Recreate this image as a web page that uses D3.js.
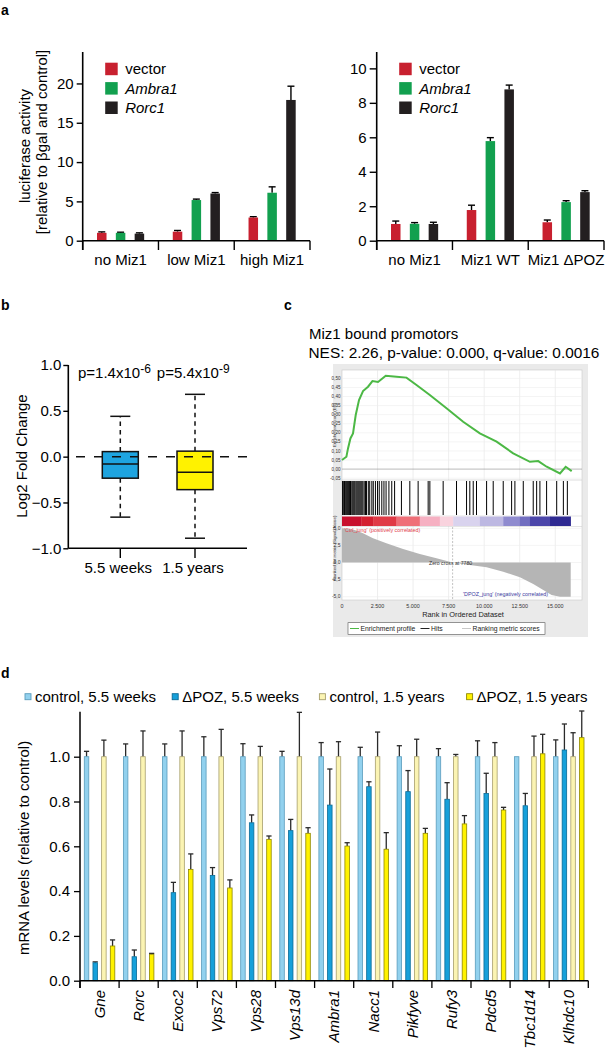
<!DOCTYPE html>
<html><head><meta charset="utf-8">
<script src="https://cdn.jsdelivr.net/npm/d3@7"></script>
<style>
body{margin:0;background:#fff;}
svg{display:block;font-family:"Liberation Sans",Arial,Helvetica,sans-serif;}
</style></head><body><svg id="fig" width="605" height="1048"></svg>
<script>
// ================= DATA =================
// Panel a
const aSeries = ["vector", "Ambra1", "Rorc1"];
const aLeftGroups = ["no Miz1", "low Miz1", "high Miz1"];
const aLeftValues = [[1.0, 1.0, 0.9], [1.15, 5.17, 6.0], [2.95, 6.1, 17.9]];
const aLeftErrors = [[0.12, 0.08, 0.1], [0.15, 0.12, 0.12], [0.1, 0.75, 1.75]];
const aLeftTicks = [0, 5, 10, 15, 20];
const aRightGroups = ["no Miz1", "Miz1 WT", "Miz1 \u0394POZ"];
const aRightValues = [[0.97, 0.98, 0.97], [1.78, 5.78, 8.78], [1.07, 2.24, 2.82]];
const aRightErrors = [[0.17, 0.07, 0.1], [0.28, 0.2, 0.25], [0.13, 0.08, 0.08]];
const aRightTicks = [0, 2, 4, 6, 8, 10];

// Panel b
const bGroups = ["5.5 weeks", "1.5 years"];
const bMin = [-0.66, -0.89];
const bQ1 = [-0.235, -0.36];
const bMedian = [-0.08, -0.17];
const bQ3 = [0.055, 0.06];
const bMax = [0.44, 0.68];
const bPMantissa = ["1.4", "5.4"];
const bPExponent = ["-6", "-9"];
const bTicks = [-1.0, -0.5, 0, 0.5, 1.0];

// Panel c (GSEA)
const cTitle1 = "Miz1 bound promotors";
const cTitle2 = "NES: 2.26, p-value: 0.000, q-value: 0.0016";
const esRank = [0, 310, 423, 592, 775, 965, 1197, 1479, 1831, 2141, 2535, 3077, 3831, 4535, 5239, 6176, 7352, 8521, 9697, 10873, 12042, 13218, 13803, 14394, 15331, 15732, 16155];
const esValue = [0.05, 0.068, 0.114, 0.169, 0.197, 0.298, 0.38, 0.43, 0.454, 0.485, 0.48, 0.514, 0.509, 0.504, 0.463, 0.408, 0.335, 0.261, 0.197, 0.151, 0.087, 0.04, 0.044, 0.013, -0.024, 0.013, -0.011];
const hitRanks = [40, 120, 180, 260, 330, 400, 470, 520, 600, 690, 760, 830, 900, 980, 1050, 1120, 1190, 1260, 1330, 1400, 1470,
  1560, 1650, 1720, 1850, 1950, 2100, 2200, 2350, 2500, 2620, 2800, 2950, 3100, 3300, 3500, 3700,
  4180, 4770, 5355, 6060, 6180, 7115, 8055, 8760, 8990, 9230, 9460, 10170, 10635, 11340, 11930, 12160, 12750, 13450, 13690, 13920, 14390, 15100, 15570, 15850];
const metricRank = [0, 894, 1479, 2183, 3122, 4296, 5470, 6646, 7780, 8990, 10170, 11340, 12514, 13451, 14155, 14742, 15330, 16085];
const metricValue = [5.0, 4.75, 4.27, 3.54, 2.8, 1.97, 1.24, 0.61, 0.0, -0.37, -0.7, -1.34, -2.16, -3.14, -4.02, -4.75, -5.0, -5.0];
const colorBarEdges = [0, 1360, 2190, 3830, 5470, 6880, 7820, 9700, 11340, 12510, 13220, 14630, 16080];
const colorBarColors = ["#c8102e", "#d42030", "#e03a46", "#ef6f78", "#f6b0c2", "#f9d3de", "#d9d3ee", "#bdb8e2", "#8f8bcf", "#716ec0", "#4c46aa", "#2f2a92"];
const rankTicks = [0, 2500, 5000, 7500, 10000, 12500, 15000];
const esTicks = [-0.05, 0, 0.05, 0.1, 0.15, 0.2, 0.25, 0.3, 0.35, 0.4, 0.45, 0.5];
const metricTicks = [-5, -2.5, 0, 2.5, 5];
const zeroCross = 7780;

// Panel d
const dGenes = ["Gne", "Rorc", "Exoc2", "Vps72", "Vps28", "Vps13d", "Ambra1", "Nacc1", "Pikfyve", "Rufy3", "Pdcd5", "Tbc1d14", "Klhdc10"];
const dSeries = ["control, 5.5 weeks", "\u0394POZ, 5.5 weeks", "control, 1.5 years", "\u0394POZ, 1.5 years"];
const dCtrl55 = [1, 1, 1, 1, 1, 1, 1, 1, 1, 1, 1, 1, 1];
const dCtrl55Err = [0.024, 0.057, 0.057, 0.089, 0.058, 0.024, 0.063, 0.042, 0.049, 0.036, 0.071, 0.0, 0.075];
const dPoz55 = [0.08, 0.107, 0.393, 0.47, 0.705, 0.67, 0.784, 0.866, 0.844, 0.81, 0.836, 0.781, 1.03];
const dPoz55Err = [0.004, 0.03, 0.046, 0.035, 0.035, 0.05, 0.161, 0.022, 0.094, 0.074, 0.09, 0.055, 0.116];
const dCtrl15 = [1, 1, 1, 1, 1, 1, 1, 1, 1, 1, 1, 1, 1];
const dCtrl15Err = [0.074, 0.115, 0.115, 0.122, 0.046, 0.198, 0.067, 0.11, 0.078, 0.01, 0.063, 0.092, 0.107];
const dPoz15 = [0.155, 0.118, 0.497, 0.414, 0.631, 0.658, 0.601, 0.587, 0.658, 0.70, 0.762, 1.013, 1.085];
const dPoz15Err = [0.027, 0.004, 0.069, 0.036, 0.015, 0.025, 0.015, 0.074, 0.022, 0.037, 0.012, 0.087, 0.119];
const dTicks = [0, 0.2, 0.4, 0.6, 0.8, 1.0];

// ================= DRAW =================
const svg = d3.select("#fig");
svg.append("rect").attr("width", 605).attr("height", 1048).attr("fill", "#fff");
const FS = 15;
const aColors = ["#c8202f", "#12a04f", "#231f20"];

// panel letters
[["a", 1, 15], ["b", 1, 310], ["c", 284, 310], ["d", 1, 678]].forEach(([t, x, y]) => {
  svg.append("text").attr("x", x).attr("y", y).attr("font-size", 14).attr("font-weight", "bold").attr("fill", "#000").text(t);
});

// ---------- Panel a ----------
function drawPanelA(groups, vals, errs, ticks, yMax, x0, x1, tickSize) {
  const g = svg.append("g");
  const y = d3.scaleLinear().domain([0, yMax]).range([240.7, 52]);
  const x = d3.scaleBand().domain(groups).range([x0, x1]);
  const xs = d3.scaleBand().domain(aSeries).range([0, x.bandwidth()]).paddingInner(0.495).paddingOuter(0.76);
  const flat = [];
  groups.forEach((grp, gi) => aSeries.forEach((s, si) => flat.push({grp, s, si, v: vals[gi][si], e: errs[gi][si]})));
  const cx = d => x(d.grp) + xs(d.s) + xs.bandwidth() / 2;
  g.selectAll(".err").data(flat).join("line")
    .attr("x1", cx).attr("x2", cx).attr("y1", d => y(d.v)).attr("y2", d => y(d.v + d.e))
    .attr("stroke", "#000").attr("stroke-width", 1.4);
  g.selectAll(".cap").data(flat).join("line")
    .attr("x1", d => cx(d) - 3.5).attr("x2", d => cx(d) + 3.5).attr("y1", d => y(d.v + d.e)).attr("y2", d => y(d.v + d.e))
    .attr("stroke", "#000").attr("stroke-width", 1.4);
  g.selectAll(".bar").data(flat).join("rect")
    .attr("x", d => x(d.grp) + xs(d.s)).attr("y", d => y(d.v))
    .attr("width", xs.bandwidth()).attr("height", d => y(0) - y(d.v))
    .attr("fill", d => aColors[d.si]);
  // y axis
  const ax = g.append("g").attr("transform", `translate(${x0},0)`)
    .call(d3.axisLeft(y).tickValues(ticks).tickSize(tickSize).tickPadding(3));
  ax.select(".domain").remove();
  ax.selectAll("line").attr("stroke", "#000").attr("stroke-width", 1.4);
  ax.selectAll("text").attr("font-size", FS).attr("fill", "#000").attr("font-family", null);
  g.append("line").attr("x1", x0).attr("x2", x0).attr("y1", 52).attr("y2", 250).attr("stroke", "#000").attr("stroke-width", 1.6);
  // x axis
  g.append("line").attr("x1", x0).attr("x2", x1).attr("y1", y(0)).attr("y2", y(0)).attr("stroke", "#000").attr("stroke-width", 1.6);
  const bounds = groups.map(d => x(d)).concat([x1]);
  g.selectAll(".xt").data(bounds).join("line")
    .attr("x1", d => d).attr("x2", d => d).attr("y1", y(0)).attr("y2", 250).attr("stroke", "#000").attr("stroke-width", 1.4);
  g.selectAll(".xl").data(groups).join("text")
    .attr("x", d => x(d) + x.bandwidth() / 2).attr("y", 265).attr("text-anchor", "middle")
    .attr("font-size", FS).attr("fill", "#000").text(d => d);
  // legend
  aSeries.forEach((s, i) => {
    const ly = 69 + i * 19.4;
    g.append("rect").attr("x", x0 + 22.5).attr("y", ly - 6.3).attr("width", 12.5).attr("height", 12.5).attr("fill", aColors[i]);
    g.append("text").attr("x", x0 + 42.5).attr("y", ly + 5.3).attr("font-size", FS)
      .attr("font-style", i === 0 ? "normal" : "italic").attr("fill", "#000").text(s);
  });
}
drawPanelA(aLeftGroups, aLeftValues, aLeftErrors, aLeftTicks, 24, 82.7, 310, 6);
drawPanelA(aRightGroups, aRightValues, aRightErrors, aRightTicks, 10.95, 376.7, 604, 7);
// y label a
svg.append("text").attr("transform", "translate(30,146) rotate(-90)").attr("text-anchor", "middle")
  .attr("font-size", FS).attr("fill", "#000").text("luciferase activity");
svg.append("text").attr("transform", "translate(46.5,142) rotate(-90)").attr("text-anchor", "middle")
  .attr("font-size", FS).attr("fill", "#000").text("[relative to \u03B2gal and control]");

// ---------- Panel b ----------
{
  const g = svg.append("g");
  const y = d3.scaleLinear().domain([-1, 1]).range([548.3, 365]);
  const x = d3.scalePoint().domain(bGroups).range([120.3, 195]);
  const bColors = ["#1ea4e0", "#fff200"];
  const bw = 36, cw = 20;
  bGroups.forEach((grp, i) => {
    const cx = x(grp);
    g.append("line").attr("x1", cx).attr("x2", cx).attr("y1", y(bQ3[i])).attr("y2", y(bMax[i]))
      .attr("stroke", "#111").attr("stroke-width", 1.5).attr("stroke-dasharray", "4.5,4");
    g.append("line").attr("x1", cx).attr("x2", cx).attr("y1", y(bQ1[i])).attr("y2", y(bMin[i]))
      .attr("stroke", "#111").attr("stroke-width", 1.5).attr("stroke-dasharray", "4.5,4");
    [bMax[i], bMin[i]].forEach(v => g.append("line").attr("x1", cx - cw / 2).attr("x2", cx + cw / 2)
      .attr("y1", y(v)).attr("y2", y(v)).attr("stroke", "#111").attr("stroke-width", 1.5));
    g.append("rect").attr("x", cx - bw / 2).attr("y", y(bQ3[i])).attr("width", bw)
      .attr("height", y(bQ1[i]) - y(bQ3[i])).attr("fill", bColors[i]).attr("stroke", "#111").attr("stroke-width", 1.5);
    g.append("line").attr("x1", cx - bw / 2).attr("x2", cx + bw / 2).attr("y1", y(bMedian[i])).attr("y2", y(bMedian[i]))
      .attr("stroke", "#111").attr("stroke-width", 1.5);
  });
  g.append("line").attr("x1", 76).attr("x2", 248).attr("y1", y(0)).attr("y2", y(0))
    .attr("stroke", "#111").attr("stroke-width", 1.5).attr("stroke-dasharray", "9,9");
  const ax = g.append("g").attr("transform", "translate(68.3,0)")
    .call(d3.axisLeft(y).tickValues(bTicks).tickFormat(d3.format(".1f")).tickSize(5).tickPadding(2));
  ax.select(".domain").remove();
  ax.selectAll("line").attr("stroke", "#000").attr("stroke-width", 1.4);
  ax.selectAll("text").attr("font-size", FS).attr("fill", "#000").attr("font-family", null);
  g.append("line").attr("x1", 68.3).attr("x2", 68.3).attr("y1", 365).attr("y2", 548.3).attr("stroke", "#000").attr("stroke-width", 1.6);
  g.append("line").attr("x1", 68.3).attr("x2", 247).attr("y1", 548.3).attr("y2", 548.3).attr("stroke", "#000").attr("stroke-width", 1.6);
  bGroups.forEach(grp => {
    g.append("line").attr("x1", x(grp)).attr("x2", x(grp)).attr("y1", 548.3).attr("y2", 558).attr("stroke", "#000").attr("stroke-width", 1.4);
    g.append("text").attr("x", x(grp) - 2).attr("y", 573).attr("text-anchor", "middle").attr("font-size", FS).attr("fill", "#000").text(grp);
  });
  let px = 78;
  bGroups.forEach((grp, i) => {
    const t = g.append("text").attr("x", px).attr("y", 378).attr("font-size", FS).attr("fill", "#000");
    t.append("tspan").text("p=" + bPMantissa[i] + "x10");
    t.append("tspan").attr("dy", -5).attr("font-size", 12).text(bPExponent[i]);
    px += t.node().getComputedTextLength() + 6;
  });
  svg.append("text").attr("transform", "translate(27,456) rotate(-90)").attr("text-anchor", "middle")
    .attr("font-size", FS).attr("fill", "#000").text("Log2 Fold Change");
}

// ---------- Panel c ----------
{
  const g = svg.append("g");
  g.append("text").attr("x", 309).attr("y", 339).attr("font-size", FS).attr("fill", "#000").text(cTitle1);
  g.append("text").attr("x", 308.5).attr("y", 357.5).attr("font-size", 15.4).attr("fill", "#000").text(cTitle2);
  const euro = d3.formatLocale({decimal: ",", thousands: ".", grouping: [3], currency: ["", ""], minus: "-"});
  g.append("rect").attr("x", 333).attr("y", 364).attr("width", 255).attr("height", 273).attr("fill", "#eaeaea");
  const x = d3.scaleLinear().domain([0, 16880]).range([342, 582]);
  const esY = d3.scaleLinear().domain([-0.06, 0.546]).range([480, 370]);
  const mY = d3.scaleLinear().domain([-5, 5]).range([596.7, 528.3]);
  g.append("rect").attr("x", 342).attr("y", 370).attr("width", 240).attr("height", 230).attr("fill", "#fff").attr("stroke", "#c8c8c8").attr("stroke-width", 0.6);
  g.selectAll(".vg").data(rankTicks.slice(1)).join("line")
    .attr("x1", d => x(d)).attr("x2", d => x(d)).attr("y1", 370).attr("y2", 480).attr("stroke", "#e2e2e2").attr("stroke-width", 0.6);
  g.selectAll(".vg2").data(rankTicks.slice(1)).join("line")
    .attr("x1", d => x(d)).attr("x2", d => x(d)).attr("y1", 526).attr("y2", 600).attr("stroke", "#e2e2e2").attr("stroke-width", 0.6);
  g.selectAll(".hg").data(esTicks).join("line")
    .attr("x1", 342).attr("x2", 582).attr("y1", d => esY(d)).attr("y2", d => esY(d))
    .attr("stroke", d => d === 0 ? "#8a8a8a" : "#ececec").attr("stroke-width", 0.6);
  g.selectAll(".mg").data(metricTicks).join("line")
    .attr("x1", 342).attr("x2", 582).attr("y1", d => mY(d)).attr("y2", d => mY(d)).attr("stroke", "#ececec").attr("stroke-width", 0.6);
  g.append("line").attr("x1", 342).attr("x2", 582).attr("y1", 480).attr("y2", 480).attr("stroke", "#c8c8c8").attr("stroke-width", 0.6);
  const esData = esRank.map((r, i) => [r, esValue[i]]);
  g.append("path").datum(esData).attr("d", d3.line().x(d => x(d[0])).y(d => esY(d[1])))
    .attr("fill", "none").attr("stroke", "#4cb845").attr("stroke-width", 2);
  g.selectAll(".hit").data(hitRanks).join("line")
    .attr("x1", d => x(d)).attr("x2", d => x(d)).attr("y1", 481).attr("y2", 515).attr("stroke", "#000").attr("stroke-width", 1);
  g.append("line").attr("x1", 342).attr("x2", 582).attr("y1", 516).attr("y2", 516).attr("stroke", "#c8c8c8").attr("stroke-width", 0.5);
  colorBarColors.forEach((c, i) => {
    g.append("rect").attr("x", x(colorBarEdges[i])).attr("y", 516.5).attr("width", x(colorBarEdges[i + 1]) - x(colorBarEdges[i]) + 0.3)
      .attr("height", 9.5).attr("fill", c);
  });
  g.append("line").attr("x1", 342).attr("x2", 582).attr("y1", 526.5).attr("y2", 526.5).attr("stroke", "#c8c8c8").attr("stroke-width", 0.5);
  const mData = metricRank.map((r, i) => [r, metricValue[i]]);
  g.append("path").datum(mData).attr("d", d3.area().x(d => x(d[0])).y0(mY(0)).y1(d => mY(d[1])))
    .attr("fill", "#b5b5b5");
  g.append("line").attr("x1", x(zeroCross)).attr("x2", x(zeroCross)).attr("y1", 527).attr("y2", 600)
    .attr("stroke", "#9a9a9a").attr("stroke-width", 0.6).attr("stroke-dasharray", "2,1.5");
  g.append("text").attr("x", 344).attr("y", 532).attr("font-size", 5.4).attr("fill", "#e0404c").text("'Ctrl_jung' (positively correlated)");
  g.append("text").attr("x", 429).attr("y", 564.5).attr("font-size", 5.2).attr("fill", "#333").text("Zero cross at " + zeroCross);
  g.append("text").attr("x", 463).attr("y", 596).attr("font-size", 5.4).attr("fill", "#3a3aa0").text("'DPOZ_jung' (negatively correlated)");
  g.selectAll(".esl").data(esTicks).join("text")
    .attr("x", 340.5).attr("y", d => esY(d) + 1.6).attr("text-anchor", "end").attr("font-size", 4.6).attr("fill", "#333")
    .text(d => euro.format(".2f")(d));
  g.selectAll(".ml").data(metricTicks).join("text")
    .attr("x", 340.5).attr("y", d => mY(d) + 1.7).attr("text-anchor", "end").attr("font-size", 5).attr("fill", "#333")
    .text(d => euro.format(".1f")(d));
  g.selectAll(".rl").data(rankTicks).join("text")
    .attr("x", d => x(d)).attr("y", 608.3).attr("text-anchor", "middle").attr("font-size", 5.4).attr("fill", "#333")
    .text(d => euro.format(",")(d));
  g.append("text").attr("x", 463).attr("y", 616.7).attr("text-anchor", "middle").attr("font-size", 7.4).attr("fill", "#222").text("Rank in Ordered Dataset");
  g.append("text").attr("transform", "translate(335.5,425) rotate(-90)").attr("text-anchor", "middle").attr("font-size", 4.4).attr("fill", "#333").text("Enrichment score (ES)");
  g.append("text").attr("transform", "translate(335.5,548) rotate(-90)").attr("text-anchor", "middle").attr("font-size", 4.4).attr("fill", "#333").text("Ranked list metric (Signal2Noise)");
  g.append("rect").attr("x", 348).attr("y", 622.7).attr("width", 197).attr("height", 11.6).attr("fill", "#fff").attr("stroke", "#555").attr("stroke-width", 0.6);
  const leg = [["Enrichment profile", "#4cb845", 350], ["Hits", "#222", 420.5], ["Ranking metric scores", "#c8c8c8", 462]];
  leg.forEach(([t, c, lx]) => {
    g.append("line").attr("x1", lx).attr("x2", lx + 9).attr("y1", 628.5).attr("y2", 628.5).attr("stroke", c).attr("stroke-width", 1);
    g.append("text").attr("x", lx + 10.5).attr("y", 631).attr("font-size", 6.8).attr("fill", "#222").text(t);
  });
}

// ---------- Panel d ----------
{
  const g = svg.append("g");
  const y = d3.scaleLinear().domain([0, 1.2]).range([980.7, 711.9]);
  const x = d3.scaleBand().domain(dGenes).range([80, 588.3]);
  const xs = d3.scaleBand().domain(dSeries).range([0, x.bandwidth()]).paddingInner(0.48).paddingOuter(0.495);
  const fills = ["#92d1ee", "#16a0da", "#fbf4b3", "#fff200"];
  const strokes = ["#5a9cbc", "#0a6a96", "#a79f6d", "#8f8700"];
  const vals = [dCtrl55, dPoz55, dCtrl15, dPoz15];
  const errs = [dCtrl55Err, dPoz55Err, dCtrl15Err, dPoz15Err];
  const flat = [];
  dGenes.forEach((gene, gi) => dSeries.forEach((s, si) => flat.push({gene, s, si, v: vals[si][gi], e: errs[si][gi]})));
  const cx = d => x(d.gene) + xs(d.s) + xs.bandwidth() / 2;
  g.selectAll(".err").data(flat.filter(d => d.e > 0.001)).join("line")
    .attr("x1", cx).attr("x2", cx).attr("y1", d => y(d.v)).attr("y2", d => y(d.v + d.e)).attr("stroke", "#2a2a2a").attr("stroke-width", 1.3);
  g.selectAll(".cap").data(flat.filter(d => d.e > 0.001)).join("line")
    .attr("x1", d => cx(d) - 2.6).attr("x2", d => cx(d) + 2.6).attr("y1", d => y(d.v + d.e)).attr("y2", d => y(d.v + d.e))
    .attr("stroke", "#2a2a2a").attr("stroke-width", 1.3);
  g.selectAll(".bar").data(flat).join("rect")
    .attr("x", d => x(d.gene) + xs(d.s)).attr("y", d => y(d.v))
    .attr("width", xs.bandwidth()).attr("height", d => y(0) - y(d.v))
    .attr("fill", d => fills[d.si]).attr("stroke", d => strokes[d.si]).attr("stroke-width", 0.8);
  const ax = g.append("g").attr("transform", "translate(80,0)")
    .call(d3.axisLeft(y).tickValues(dTicks).tickFormat(d3.format(".1f")).tickSize(6).tickPadding(4));
  ax.select(".domain").remove();
  ax.selectAll("line").attr("stroke", "#000").attr("stroke-width", 1.3);
  ax.selectAll("text").attr("font-size", FS).attr("fill", "#000").attr("font-family", null);
  g.append("line").attr("x1", 80).attr("x2", 80).attr("y1", 711.7).attr("y2", 988).attr("stroke", "#000").attr("stroke-width", 1.5);
  g.append("line").attr("x1", 80).attr("x2", 588.3).attr("y1", 980.7).attr("y2", 980.7).attr("stroke", "#000").attr("stroke-width", 1.5);
  const bounds = dGenes.map(d => x(d)).concat([588.3]);
  g.selectAll(".xt").data(bounds).join("line")
    .attr("x1", d => d).attr("x2", d => d).attr("y1", 980.7).attr("y2", 988).attr("stroke", "#000").attr("stroke-width", 1.3);
  g.selectAll(".xl").data(dGenes).join("text")
    .attr("transform", d => `translate(${x(d) + x.bandwidth() / 2 + 5.3},990) rotate(-90)`)
    .attr("text-anchor", "end").attr("font-size", FS).attr("font-style", "italic").attr("fill", "#000").text(d => d);
  svg.append("text").attr("transform", "translate(28.5,848) rotate(-90)").attr("text-anchor", "middle")
    .attr("font-size", FS).attr("fill", "#000").text("mRNA levels (relative to control)");
  dSeries.forEach((s, i) => {
    const lx = 25 + i * 147.2;
    g.append("rect").attr("x", lx).attr("y", 693.7).attr("width", 6).attr("height", 6)
      .attr("fill", fills[i]).attr("stroke", strokes[i]).attr("stroke-width", 0.9);
    g.append("text").attr("x", lx + 10).attr("y", 702).attr("font-size", FS).attr("fill", "#000").text(s);
  });
}
</script></body></html>
